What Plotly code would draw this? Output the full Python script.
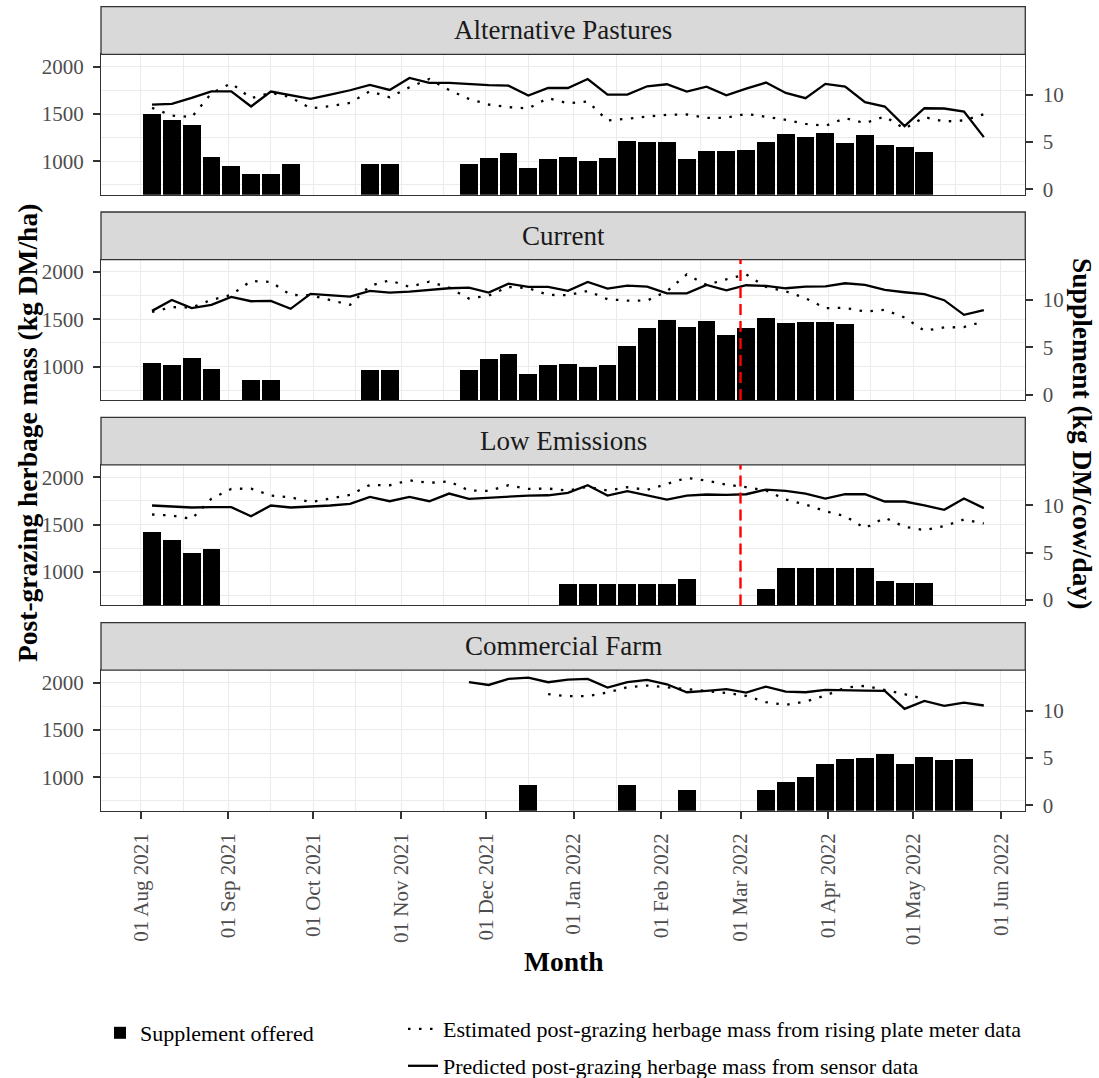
import datetime as dt
import plotly.graph_objects as go

W, H = 1099, 1078
FONT = "Liberation Serif"

# ---------------- data ----------------
dates = ["2021-08-05", "2021-08-12", "2021-08-19", "2021-08-26", "2021-09-02", "2021-09-09",
         "2021-09-16", "2021-09-23", "2021-09-30", "2021-10-07", "2021-10-14", "2021-10-21",
         "2021-10-28", "2021-11-04", "2021-11-11", "2021-11-18", "2021-11-25", "2021-12-02",
         "2021-12-09", "2021-12-16", "2021-12-23", "2021-12-30", "2022-01-06", "2022-01-13",
         "2022-01-20", "2022-01-27", "2022-02-03", "2022-02-10", "2022-02-17", "2022-02-24",
         "2022-03-03", "2022-03-10", "2022-03-17", "2022-03-24", "2022-03-31", "2022-04-07",
         "2022-04-14", "2022-04-21", "2022-04-28", "2022-05-05", "2022-05-12", "2022-05-19",
         "2022-05-26"]

facets = ["Alternative Pastures", "Current", "Low Emissions", "Commercial Farm"]

N = None
# supplement offered (kg DM/cow/day)
supp_alt = [7.9, 7.3, 6.8, 3.4, 2.4, 1.6, 1.6, 2.6, N, N, N, 2.6, 2.6, N, N, N, 2.6, 3.3, 3.8, 2.2,
            3.2, 3.4, 3.0, 3.3, 5.1, 5.0, 5.0, 3.2, 4.0, 4.0, 4.1, 5.0, 5.8, 5.5, 5.9, 4.9, 5.7,
            4.6, 4.4, 3.9, N, N, N]
supp_cur = [3.4, 3.2, 3.9, 2.8, N, 1.6, 1.6, N, N, N, N, 2.6, 2.6, N, N, N, 2.6, 3.8, 4.3, 2.2,
            3.2, 3.3, 3.0, 3.2, 5.2, 7.1, 7.9, 7.2, 7.8, 6.3, 7.1, 8.1, 7.6, 7.7, 7.7, 7.5, N,
            N, N, N, N, N, N]
supp_low = [7.2, 6.3, 5.0, 5.4, N, N, N, N, N, N, N, N, N, N, N, N, N, N, N, N,
            N, 1.7, 1.7, 1.7, 1.7, 1.7, 1.7, 2.2, N, N, N, 1.2, 3.4, 3.4, 3.4, 3.4, 3.4,
            2.0, 1.8, 1.8, N, N, N]
supp_com = [N, N, N, N, N, N, N, N, N, N, N, N, N, N, N, N, N, N, N, 2.1,
            N, N, N, N, 2.1, N, N, 1.6, N, N, N, 1.6, 2.4, 3.0, 4.3, 4.9, 5.0,
            5.4, 4.3, 5.1, 4.8, 4.9, N]

# predicted post-grazing herbage mass from sensor data (kg DM/ha)
pred_alt = [1600, 1607, 1670, 1740, 1740, 1579, 1737, 1695, 1660, 1705, 1751, 1807, 1754, 1881,
            1828, 1828, 1815, 1805, 1800, 1695, 1775, 1775, 1870, 1705, 1705, 1793, 1814, 1737,
            1789, 1698, 1768, 1832, 1723, 1667, 1818, 1789, 1625, 1579, 1372, 1561, 1558, 1526,
            1256]
pred_cur = [1589, 1705, 1618, 1653, 1737, 1691, 1695, 1611, 1768, 1754, 1740, 1800, 1782, 1793,
            1810, 1828, 1835, 1782, 1877, 1842, 1842, 1800, 1895, 1825, 1856, 1846, 1775, 1775,
            1863, 1807, 1860, 1853, 1828, 1846, 1849, 1881, 1863, 1810, 1786, 1765, 1702, 1547,
            1596]
pred_low = [1702, 1688, 1681, 1684, 1684, 1589, 1702, 1681, 1688, 1702, 1719, 1793, 1747, 1793,
            1747, 1828, 1772, 1782, 1800, 1807, 1810, 1835, 1916, 1807, 1853, 1810, 1765, 1807,
            1818, 1814, 1821, 1870, 1856, 1828, 1775, 1821, 1821, 1744, 1744, 1702, 1656, 1775,
            1674]
pred_com = [N, N, N, N, N, N, N, N, N, N, N, N, N, N, N, N, 2004, 1975, 2039, 2053, 2004, 2032,
            2039, 1947, 2004, 2028, 1982, 1898, 1912, 1930, 1895, 1958, 1905, 1898, 1923, 1923,
            1916, 1912, 1723, 1807, 1754, 1789, 1758]

# estimated post-grazing herbage mass from rising plate meter data (kg DM/ha)
est_alt = [1565, 1484, 1467, 1719, 1825, 1667, 1725, 1677, 1561, 1582, 1618, 1740, 1677, 1782,
           1870, 1754, 1660, 1600, 1572, 1560, 1667, 1614, 1632, 1432, 1449, 1474, 1491, 1495,
           1460, 1460, 1502, 1474, 1439, 1396, 1375, 1456, 1404, 1474, 1344, 1467, 1421, 1432,
           1498]
est_cur = [1579, 1628, 1625, 1705, 1758, 1905, 1895, 1758, 1754, 1705, 1653, 1853, 1912, 1842,
           1898, 1835, 1719, 1751, 1842, 1830, 1758, 1754, 1800, 1712, 1698, 1698, 1796, 1975,
           1863, 1923, 1975, 1842, 1796, 1723, 1618, 1621, 1582, 1600, 1519, 1379, 1414, 1418,
           1477]
est_low = [1607, 1596, 1560, 1775, 1877, 1881, 1807, 1789, 1737, 1775, 1814, 1919, 1916, 1968,
           1940, 1958, 1860, 1856, 1916, 1877, 1881, 1860, 1900, 1860, 1895, 1867, 1933, 1993,
           1965, 1923, 1895, 1860, 1765, 1712, 1642, 1589, 1463, 1572, 1477, 1442, 1484, 1554,
           1512]
est_com = [N, N, N, N, N, N, N, N, N, N, N, N, N, N, N, N, N, N, N, N, 1877, 1856, 1856, 1895,
           1951, 1968, 1951, 1930, 1905, 1891, 1860, 1793, 1765, 1800, 1863, 1947, 1965, 1923,
           1877, 1828, N, N, N]

supp_series = [supp_alt, supp_cur, supp_low, supp_com]
pred_series = [pred_alt, pred_cur, pred_low, pred_com]
est_series = [est_alt, est_cur, est_low, est_com]
vline_panels = [False, True, True, False]
vline_date = "2022-03-01"

herb_ticks = [1000, 1500, 2000]
herb_minor = [750, 1250, 1750]
supp_ticks = [0, 5, 10]
month_ticks = ["2021-08-01", "2021-09-01", "2021-10-01", "2021-11-01", "2021-12-01", "2022-01-01",
               "2022-02-01", "2022-03-01", "2022-04-01", "2022-05-01", "2022-06-01"]

# ---------------- scales / layout constants ----------------
HERB_RANGE = [646, 2131]
SEC_OFFSET, SEC_SCALE = 704, 100      # herbage = 704 + 100 * supplement
SUPP_RANGE = [(v - SEC_OFFSET) / SEC_SCALE for v in HERB_RANGE]
BAR_BASE = (0 - SEC_OFFSET) / SEC_SCALE  # bars start from herbage-scale zero (clipped)
BAR_W = 0.9 * 7 * 86400000
X_RANGE = ["2021-07-17 23:00", "2022-06-09 16:00"]

PX0, PX1 = 101, 1025.3
PANEL_TOP = [54.3, 259.6, 464.9, 670.2]
PANEL_H = 140.5
STRIP_H = 47.6

GRID = "#EBEBEB"
BORDER = "#333333"
TICKC = "#4D4D4D"
TICK_SIZE = 21

d = [dt.date.fromisoformat(m) for m in month_ticks]
minor_x = [(d[i] + (d[i + 1] - d[i]) / 2).isoformat() for i in range(len(d) - 1)]

fig = go.Figure()
layout = {}
shapes = []
annotations = []

for i, facet in enumerate(facets):
    xref = "x" if i == 0 else f"x{i + 1}"
    sref = "y" if i == 0 else f"y{2 * i + 1}"
    href = f"y{2 * i + 2}"
    xname = "xaxis" if i == 0 else f"xaxis{i + 1}"
    sname = "yaxis" if i == 0 else f"yaxis{2 * i + 1}"
    hname = f"yaxis{2 * i + 2}"
    top = PANEL_TOP[i]
    bot = top + PANEL_H

    supp = supp_series[i]
    fig.add_trace(go.Bar(
        x=dates, y=[None if v is None else v - BAR_BASE for v in supp], base=BAR_BASE,
        width=BAR_W, marker=dict(color="black", line=dict(width=0)),
        xaxis=xref, yaxis=sref, name="Supplement offered",
        legend="legend", showlegend=(i == 0), customdata=supp,
        hovertemplate="%{x}<br>%{customdata}<extra></extra>"))
    fig.add_trace(go.Scatter(
        x=dates, y=est_series[i], mode="lines",
        line=dict(color="black", width=2.3, dash="2.5px,8.5px"),
        xaxis=xref, yaxis=href,
        name="Estimated post-grazing herbage mass from rising plate meter data",
        legend="legend2", showlegend=(i == 0)))
    fig.add_trace(go.Scatter(
        x=dates, y=pred_series[i], mode="lines",
        line=dict(color="black", width=2.3),
        xaxis=xref, yaxis=href,
        name="Predicted post-grazing herbage mass from sensor data",
        legend="legend3", showlegend=(i == 0)))

    bottom_axis = (i == len(facets) - 1)
    xa = dict(
        type="date", domain=[PX0 / W, PX1 / W], anchor=sref, range=X_RANGE,
        showline=True, mirror=True, linecolor=BORDER, linewidth=1.3,
        showgrid=True, gridcolor=GRID, gridwidth=1.4, zeroline=False,
        tickmode="array", tickvals=month_ticks, tickformat="%d %b %Y", tickangle=-90,
        minor=dict(tickmode="array", tickvals=minor_x, showgrid=True, gridcolor=GRID,
                   gridwidth=0.7, ticks=""),
        ticks="outside" if bottom_axis else "", ticklen=7, tickwidth=1.6, tickcolor=BORDER,
        showticklabels=bottom_axis, ticklabelstandoff=6,
        tickfont=dict(family=FONT, size=TICK_SIZE, color=TICKC))
    if i > 0:
        xa["matches"] = "x"
    layout[xname] = xa

    layout[sname] = dict(
        domain=[1 - bot / H, 1 - top / H], anchor=xref, side="right", range=SUPP_RANGE,
        tickmode="array", tickvals=supp_ticks, showgrid=False, zeroline=False,
        showline=True, mirror=True, linecolor=BORDER, linewidth=1.3,
        ticks="outside", ticklen=7, tickwidth=1.6, tickcolor=BORDER, ticklabelstandoff=5,
        tickfont=dict(family=FONT, size=TICK_SIZE, color=TICKC))
    layout[hname] = dict(
        overlaying=sref, anchor=xref, side="left", range=HERB_RANGE,
        tickmode="array", tickvals=herb_ticks, showgrid=True, gridcolor=GRID, gridwidth=1.4,
        minor=dict(tickmode="array", tickvals=herb_minor, showgrid=True, gridcolor=GRID,
                   gridwidth=0.7, ticks=""),
        zeroline=False, showline=False,
        ticks="outside", ticklen=7, tickwidth=1.6, tickcolor=BORDER, ticklabelstandoff=5,
        tickfont=dict(family=FONT, size=TICK_SIZE, color=TICKC))

    # facet strip
    shapes.append(dict(type="rect", xref="paper", yref="paper", layer="above",
                       x0=PX0 / W, x1=PX1 / W, y0=1 - top / H, y1=1 - (top - STRIP_H) / H,
                       fillcolor="#D9D9D9", line=dict(color=BORDER, width=1.3)))
    annotations.append(dict(text=facet, xref="paper", yref="paper", showarrow=False,
                            x=(PX0 + PX1) / 2 / W, y=1 - (top - STRIP_H / 2) / H,
                            xanchor="center", yanchor="middle",
                            font=dict(family=FONT, size=27, color="#1A1A1A")))

    if vline_panels[i]:
        shapes.append(dict(type="line", xref=xref, yref=f"{sref} domain", layer="above",
                           x0=vline_date, x1=vline_date, y0=0, y1=1,
                           line=dict(color="#FF0000", width=2.4, dash="11px,6px")))

# axis titles
annotations.append(dict(text="<b>Month</b>", xref="paper", yref="paper", showarrow=False,
                        x=(PX0 + PX1) / 2 / W, y=1 - 961 / H, xanchor="center", yanchor="middle",
                        font=dict(family=FONT, size=27.5, color="black")))
annotations.append(dict(text="<b>Post-grazing herbage mass (kg DM/ha)</b>", xref="paper",
                        yref="paper", showarrow=False, textangle=-90,
                        x=28 / W, y=1 - 433 / H, xanchor="center", yanchor="middle",
                        font=dict(family=FONT, size=27.5, color="black")))
annotations.append(dict(text="<b>Supplement (kg DM/cow/day)</b>", xref="paper",
                        yref="paper", showarrow=False, textangle=90,
                        x=1082 / W, y=1 - 433 / H, xanchor="center", yanchor="middle",
                        font=dict(family=FONT, size=27.5, color="black")))

leg_common = dict(xanchor="left", yanchor="middle", bgcolor="rgba(0,0,0,0)",
                  itemwidth=30, font=dict(family=FONT, size=22, color="black"))
layout["legend"] = dict(x=100 / W, y=1 - 1033 / H, **leg_common)
layout["legend2"] = dict(x=403 / W, y=1 - 1029 / H, **leg_common)
layout["legend3"] = dict(x=403 / W, y=1 - 1066 / H, **leg_common)

fig.update_layout(
    width=W, height=H, autosize=False,
    margin=dict(l=0, r=0, t=0, b=0, autoexpand=False),
    paper_bgcolor="white", plot_bgcolor="white",
    barmode="overlay", bargap=0,
    shapes=shapes, annotations=annotations,
    font=dict(family=FONT, color="black"),
    **layout)

fig.write_html("out.html", config={"displayModeBar": False},
               post_script="document.body.style.margin='0px';document.body.style.overflow='hidden';")
